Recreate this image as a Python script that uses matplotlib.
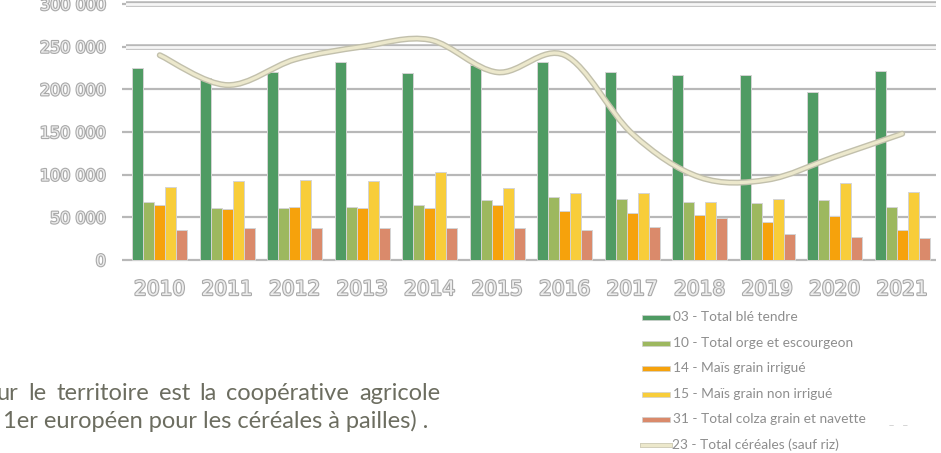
import numpy as np
import matplotlib
matplotlib.use("Agg")
import matplotlib.pyplot as plt
from matplotlib.path import Path
from matplotlib.patches import PathPatch, Rectangle
from matplotlib.lines import Line2D
import matplotlib.patheffects as pe

# ---- data -------------------------------------------------------------
years = ["2010", "2011", "2012", "2013", "2014", "2015",
         "2016", "2017", "2018", "2019", "2020", "2021"]

ble_tendre = [225000, 213000, 220000, 232000, 219000, 228000,
              232000, 220000, 217000, 217000, 197000, 222000]
orge_escourgeon = [68000, 61000, 61000, 62000, 64000, 70000,
                   74000, 72000, 68000, 67000, 70000, 62000]
mais_irrigue = [64000, 60000, 62000, 61000, 61000, 64000,
                58000, 55000, 53000, 45000, 51000, 35000]
mais_non_irrigue = [86000, 92000, 94000, 92000, 103000, 84000,
                    78000, 79000, 68000, 71000, 90000, 80000]
colza_navette = [35000, 37000, 37000, 37000, 37000, 37000,
                 35000, 39000, 49000, 31000, 27000, 26000]
total_cereales = [240000, 205000, 235000, 250000, 258000, 220000,
                  240000, 148000, 97000, 94000, 121000, 148000]

bar_series = [ble_tendre, orge_escourgeon, mais_irrigue,
              mais_non_irrigue, colza_navette]
bar_labels = ["03 - Total blé tendre",
              "10 - Total orge et escourgeon",
              "14 - Maïs grain irrigué",
              "15 - Maïs grain non irrigué",
              "31 - Total colza grain et navette"]
line_label = "23 - Total céréales (sauf riz)"

y_ticks = [0, 50000, 100000, 150000, 200000, 250000, 300000]
y_tick_labels = ["0", "50 000", "100 000", "150 000",
                 "200 000", "250 000", "300 000"]

text_line1 = "ur le territoire est la coopérative agricole"
text_line2 = "1er européen pour les céréales à pailles) ."

# ---- styling ----------------------------------------------------------
bar_colors = ["#4f9b63", "#9db85f", "#f6a20c", "#f8cd3a", "#da8a6b"]
line_fill = "#ece8cc"
line_edge = "#c2c0ac"
grid_col = "#b8b8b8"
label_fill = "#ececec"
label_edge = "#a9a9a9"
legend_text = "#8e8e8e"
body_text = "#6c6d60"
text_font = ["Lato", "DejaVu Sans"]

W, H = 941, 453
fig = plt.figure(figsize=(W / 100, H / 100), dpi=100)
fig.patch.set_facecolor("white")


def fx(x):
    return x / W


def fy(y):
    return (H - y) / H


# plot area: x from 126 to 936 px, zero line at 260 px, 300 000 at 4 px
ax = fig.add_axes([fx(126), fy(262), 810 / W, 262 / H])
per_px = 300000 / 256
ax.set_ylim(-2 * per_px, 300000 + 4 * per_px)
ax.set_xlim(-0.5, len(years) - 0.5)
for s in ax.spines.values():
    s.set_visible(False)
ax.set_facecolor("none")

# horizontal grid
for yv in y_ticks:
    if yv >= 250000:
        ax.axhline(yv, color="#f6f6f6", lw=2.0, solid_capstyle="round",
                   zorder=0.5,
                   path_effects=[pe.Stroke(linewidth=4.0, foreground=grid_col),
                                 pe.Normal()])
    else:
        ax.axhline(yv, color=grid_col, lw=1.6, zorder=0.5)

# grouped bars
x = np.arange(len(years))
bw = 0.162
for k, (vals, col) in enumerate(zip(bar_series, bar_colors)):
    ax.bar(x + (k - 2) * bw, vals, width=bw, color=col,
           edgecolor="#d4d4d4", linewidth=0.7, zorder=2)

# smooth total line (Catmull-Rom through the yearly points)
pts = np.column_stack([x, total_cereales]).astype(float)
verts = [tuple(pts[0])]
codes = [Path.MOVETO]
n = len(pts)
for i in range(n - 1):
    p0 = pts[i - 1] if i > 0 else pts[i]
    p1 = pts[i]
    p2 = pts[i + 1]
    p3 = pts[i + 2] if i + 2 < n else pts[i + 1]
    c1 = p1 + (p2 - p0) / 6.0
    c2 = p2 - (p3 - p1) / 6.0
    verts += [tuple(c1), tuple(c2), tuple(p2)]
    codes += [Path.CURVE4] * 3
curve = Path(verts, codes)
ax.add_patch(PathPatch(curve, fill=False, edgecolor=line_fill, lw=2.3,
                       capstyle="round", joinstyle="round", zorder=3,
                       path_effects=[pe.Stroke(linewidth=4.3, foreground=line_edge),
                                     pe.Normal()]))

# axes ticks / labels
ax.set_yticks(y_ticks, y_tick_labels)
ax.set_xticks(x, years)
ax.tick_params(axis="y", length=3, width=1.6, color=grid_col, pad=11.5,
               labelsize=11.5, labelcolor=label_fill)
ax.tick_params(axis="x", length=0, pad=13, labelsize=14.5,
               labelcolor=label_fill)
for lbl in ax.get_yticklabels() + ax.get_xticklabels():
    lbl.set_path_effects([pe.withStroke(linewidth=1.6, foreground=label_edge)])

# ---- legend ------------------------------------------------------------
leg_rows = [317, 343, 368, 394, 419, 445]
for yy, lab, col in zip(leg_rows, bar_labels, bar_colors):
    fig.add_artist(Rectangle((fx(642), fy(yy + 2.5)), 28 / W, 5 / H,
                             facecolor=col, edgecolor="#d0d0d0", lw=0.5,
                             transform=fig.transFigure))
    fig.text(fx(673), fy(yy), lab, fontsize=9.9, color=legend_text,
             family=text_font, va="center", ha="left")
yy = leg_rows[-1]
fig.add_artist(Line2D([fx(642), fx(670)], [fy(yy), fy(yy)], color=line_fill,
                      lw=2.2, transform=fig.transFigure,
                      path_effects=[pe.Stroke(linewidth=3.6, foreground="#d2cfbb"),
                                    pe.Normal()]))
fig.text(fx(672), fy(yy), line_label, fontsize=9.9, color=legend_text,
         family=text_font, va="center", ha="left")
fig.text(fx(889), fy(420), "_   _", fontsize=8, color="#cdcdcd",
         family=text_font, va="center", ha="left")

# ---- body text (justified first line) -------------------------------------
renderer = fig.canvas.get_renderer()
probe = fig.text(0, 0, text_line2, fontsize=10, family=text_font)
w10 = probe.get_window_extent(renderer).width
probe.remove()
body_size = 10 * 427 / w10

t2 = fig.text(fx(3), fy(428), text_line2, fontsize=body_size,
              family=text_font, color=body_text, va="baseline", ha="left")

words = text_line1.split()
widths = []
for wd in words:
    t = fig.text(0, 0, wd, fontsize=body_size, family=text_font)
    widths.append(t.get_window_extent(renderer).width)
    t.remove()
left, right = -3, 440
gap = (right - left - sum(widths)) / (len(words) - 1)
xpos = left
for wd, wpx in zip(words, widths):
    fig.text(fx(xpos), fy(400), wd, fontsize=body_size, family=text_font,
             color=body_text, va="baseline", ha="left")
    xpos += wpx + gap

fig.savefig("out.png", dpi=100)
